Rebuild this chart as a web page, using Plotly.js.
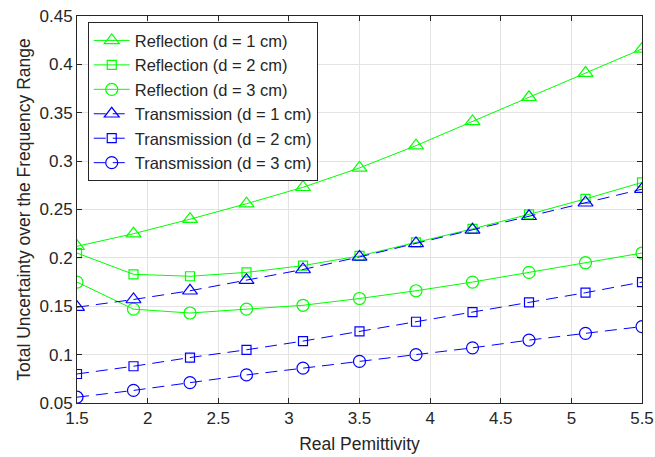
<!DOCTYPE html>
<html>
<head>
<meta charset="utf-8">
<script src="https://cdn.plot.ly/plotly-3.0.1.min.js"></script>
<style>html,body{margin:0;padding:0;background:#fff;}#chart{width:655px;height:457px;}</style>
</head>
<body>
<div id="chart"></div>
<script>
const permittivity = [1.5, 1.9, 2.3, 2.7, 3.1, 3.5, 3.9, 4.3, 4.7, 5.1, 5.5];
const reflection1 = [0.212, 0.225, 0.240, 0.256, 0.273, 0.293, 0.316, 0.341, 0.366, 0.391, 0.416];
const reflection2 = [0.205, 0.183, 0.181, 0.185, 0.192, 0.202, 0.216, 0.230, 0.245, 0.261, 0.278];
const reflection3 = [0.175, 0.147, 0.143, 0.147, 0.151, 0.158, 0.166, 0.175, 0.185, 0.195, 0.205];
const transmission1 = [0.149, 0.157, 0.166, 0.177, 0.188, 0.201, 0.215, 0.229, 0.243, 0.257, 0.271];
const transmission2 = [0.080, 0.088, 0.097, 0.105, 0.114, 0.124, 0.134, 0.144, 0.154, 0.164, 0.175];
const transmission3 = [0.056, 0.063, 0.071, 0.079, 0.086, 0.093, 0.100, 0.107, 0.115, 0.122, 0.129];
const seriesNames = ["Reflection (d = 1 cm)", "Reflection (d = 2 cm)", "Reflection (d = 3 cm)",
  "Transmission (d = 1 cm)", "Transmission (d = 2 cm)", "Transmission (d = 3 cm)"];
const xTicks = [1.5, 2, 2.5, 3, 3.5, 4, 4.5, 5, 5.5];
const yTicks = [0.05, 0.1, 0.15, 0.2, 0.25, 0.3, 0.35, 0.4, 0.45];

const green = '#00ff00', blue = '#0000ff';
const FONT = 'Liberation Sans, Arial, sans-serif';
const ys = [reflection1, reflection2, reflection3, transmission1, transmission2, transmission3];
const symbols = ['triangle-up-open', 'square-open', 'circle-open', 'triangle-up-open', 'square-open', 'circle-open'];
const sizes = [13, 9, 12, 13, 9, 12];
const traces = ys.map((y, i) => {
  const refl = i < 3;
  return {
    x: permittivity, y: y, name: seriesNames[i], type: 'scatter', mode: 'lines+markers',
    line: {color: refl ? green : blue, width: 1, dash: refl ? 'solid' : '12px,7px'},
    marker: {symbol: symbols[i], size: sizes[i], color: refl ? green : blue, line: {width: 1.2, color: refl ? green : blue}}
  };
});

const axisCommon = {
  showline: true, linecolor: '#262626', linewidth: 1, mirror: 'ticks',
  ticks: 'inside', ticklen: 5, tickcolor: '#262626',
  showgrid: true, gridcolor: '#e3e3e3', gridwidth: 1, zeroline: false,
  ticklabeloverflow: 'allow',
  tickfont: {family: FONT, size: 17, color: '#262626'}
};

const layout = {
  width: 655, height: 457,
  margin: {l: 77, r: 13, t: 16, b: 54},
  paper_bgcolor: '#fff', plot_bgcolor: '#fff',
  showlegend: true,
  xaxis: Object.assign({}, axisCommon, {
    range: [1.5, 5.5], tickvals: xTicks, ticktext: xTicks.map(String),
    title: {text: 'Real Pemittivity', font: {family: FONT, size: 17.5, color: '#262626'}, standoff: 10}
  }),
  yaxis: Object.assign({}, axisCommon, {
    range: [0.05, 0.45], tickvals: yTicks, ticktext: yTicks.map(String),
    title: {text: 'Total Uncertainty over the Frequency Range', font: {family: FONT, size: 17.5, color: '#262626'}, standoff: 4}
  }),
  legend: {
    x: 0.019, y: 0.984, xanchor: 'left', yanchor: 'top',
    bgcolor: '#fff', bordercolor: '#262626', borderwidth: 1,
    font: {family: FONT, size: 16.5, color: '#262626'},
    itemwidth: 36,
    tracegroupgap: 0
  }
};

Plotly.newPlot('chart', traces, layout, {displayModeBar: false, staticPlot: true});
</script>
</body>
</html>
